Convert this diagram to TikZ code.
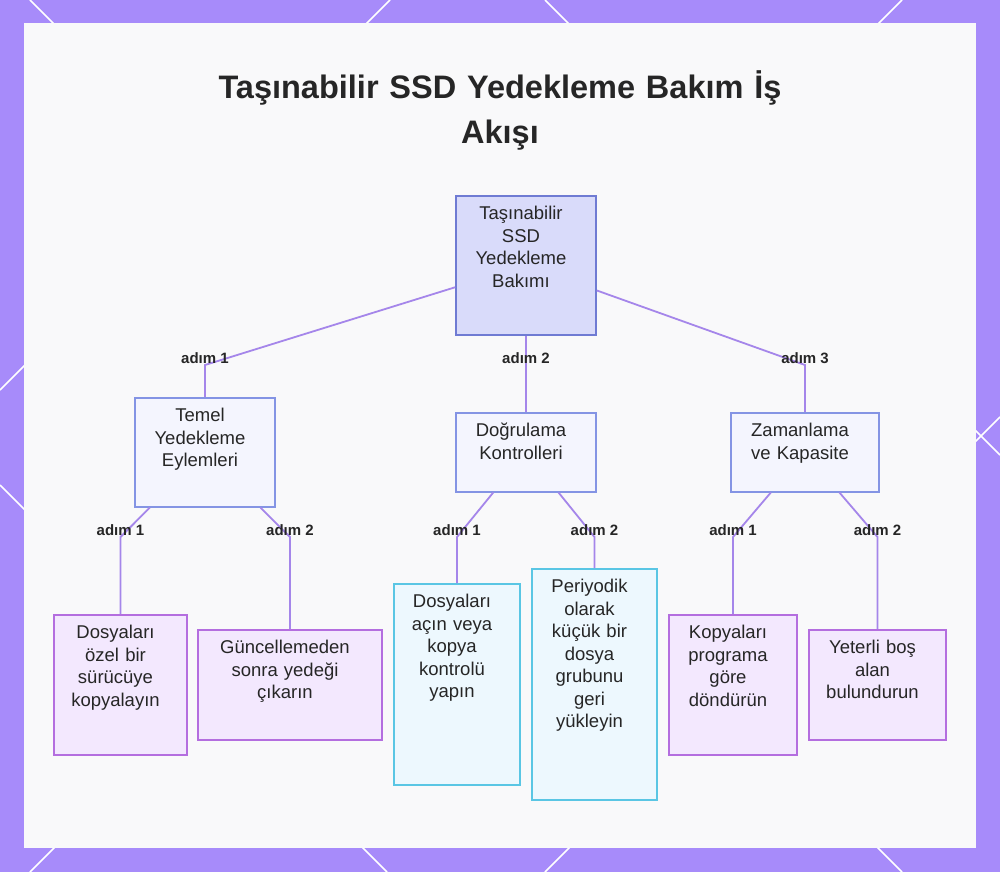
\documentclass[tikz,border=0pt]{standalone}
\usepackage{fontspec}
\setmainfont{Liberation Sans}
\setsansfont{Liberation Sans}
\usetikzlibrary{positioning}

\definecolor{framecol}{HTML}{A78BFA}
\definecolor{panelcol}{HTML}{F9F9FA}
\definecolor{linkcol}{HTML}{A586EA}
\definecolor{rootfill}{HTML}{D9DBFA}
\definecolor{rootdraw}{HTML}{6F7BD3}
\definecolor{groupfill}{HTML}{F4F5FE}
\definecolor{groupdraw}{HTML}{8494E4}
\definecolor{taskfill}{HTML}{F3E8FE}
\definecolor{taskdraw}{HTML}{B46EDF}
\definecolor{checkfill}{HTML}{EDF8FE}
\definecolor{checkdraw}{HTML}{5AC6E4}
\definecolor{inkcol}{HTML}{262626}

\begin{document}
\begin{tikzpicture}[%
	x=1pt, y=-1pt,              % one unit is one pixel of the picture
	every node/.style={font=\sffamily, text=inkcol},
	]
	% -------------------------------------------------
	% Box and connector styles
	\tikzset{
		boxbase/.style={draw, line width=1.5pt, align=center, anchor=north,
			inner xsep=0pt, inner ysep=11pt, text height=13pt,
			font=\sffamily\fontsize{18.5}{22.5}\selectfont,
			% text sits a little left of the box centre
			execute at begin node={\leftskip=0pt plus 1fil\rightskip=10pt plus 1fil\relax}},
		rootbox/.style={boxbase, fill=rootfill, draw=rootdraw},
		groupbox/.style={boxbase, fill=groupfill, draw=groupdraw},
		taskbox/.style={boxbase, fill=taskfill, draw=taskdraw},
		checkbox/.style={boxbase, fill=checkfill, draw=checkdraw},
		% connector between boxes
		link/.style={draw=linkcol, line width=1.8pt},
		steplabel/.style={font=\sffamily\bfseries\fontsize{15}{18}\selectfont, yshift=7pt},
		decor/.style={draw=white, line width=1.5pt}
	}
	\useasboundingbox (0,0) rectangle (1000,872);

	% frame with its white diagonals
	\fill[framecol] (0,0) rectangle (1000,872);
	\draw[decor] (30,0) -- (902,872);
	\draw[decor] (902,0) -- (30,872);
	\draw[decor] (390,0) -- (0,390);
	\draw[decor] (545,0) -- (1000,455);
	\draw[decor] (0,485) -- (387,872);
	\draw[decor] (1000,417) -- (545,872);
	\fill[panelcol] (24,23) rectangle (976,848);

	\node[font=\sffamily\bfseries\fontsize{32.5}{45}\selectfont, text width=700pt,
		align=center, anchor=base] (title) at (500,99) {Taşınabilir SSD Yedekleme Bakım İş\\Akışı};

	\node[rootbox, text width=140pt, text depth=104pt]	(root)		at (526,195)	{Taşınabilir\\SSD\\Yedekleme\\Bakımı};

	\node[groupbox, text width=140pt, text depth=74pt]	(basic)		at (205,397)	{Temel\\Yedekleme\\Eylemleri};
	\node[groupbox, text width=140pt, text depth=44pt]	(verify)	at (526,412)	{Doğrulama\\Kontrolleri};
	\node[groupbox, text width=148pt, text depth=44pt]	(plan)		at (805,412)	{Zamanlama\\ve Kapasite};

	\node[taskbox, text width=133pt, text depth=105pt]	(copy)		at (120.5,614)	{Dosyaları\\özel bir\\sürücüye\\kopyalayın};
	\node[taskbox, text width=184pt, text depth=75pt]	(eject)		at (290,629)	{Güncellemeden\\sonra yedeği\\çıkarın};
	\node[checkbox, text width=126pt, text depth=166pt]	(open)		at (457,583)	{Dosyaları\\açın veya\\kopya\\kontrolü\\yapın};
	\node[checkbox, text width=125pt, text depth=196pt]	(restore)	at (594.5,568)	{Periyodik\\olarak\\küçük bir\\dosya\\grubunu\\geri\\yükleyin};
	\node[taskbox, text width=128pt, text depth=105pt]	(rotate)	at (733,614)	{Kopyaları\\programa\\göre\\döndürün};
	\node[taskbox, text width=137pt, text depth=75pt]	(room)		at (877.5,629)	{Yeterli boş\\alan\\bulundurun};

	% bends of the connectors
	\coordinate (kbasic)	at (205,365);
	\coordinate (kverify)	at (526,365);
	\coordinate (kplan)		at (805,365);
	\coordinate (kcopy)		at (120.5,537);
	\coordinate (keject)	at (290,537);
	\coordinate (kopen)		at (457,537);
	\coordinate (krestore)	at (594.5,537);
	\coordinate (krotate)	at (733,537);
	\coordinate (kroom)		at (877.5,537);

	\draw[link] (root) -- (kbasic) -- (basic);
	\draw[link] (root) -- (verify);
	\draw[link] (root) -- (kplan) -- (plan);
	\draw[link] (basic) -- (kcopy) -- (copy);
	\draw[link] (basic) -- (keject) -- (eject);
	\draw[link] (verify) -- (kopen) -- (open);
	\draw[link] (verify) -- (krestore) -- (restore);
	\draw[link] (plan) -- (krotate) -- (rotate);
	\draw[link] (plan) -- (kroom) -- (room);

	\node[steplabel] (lbasic)	at (kbasic)		{adım 1};
	\node[steplabel] (lverify)	at (kverify)	{adım 2};
	\node[steplabel] (lplan)	at (kplan)		{adım 3};
	\node[steplabel] (lcopy)	at (kcopy)		{adım 1};
	\node[steplabel] (leject)	at (keject)		{adım 2};
	\node[steplabel] (lopen)	at (kopen)		{adım 1};
	\node[steplabel] (lrestore)	at (krestore)	{adım 2};
	\node[steplabel] (lrotate)	at (krotate)	{adım 1};
	\node[steplabel] (lroom)	at (kroom)		{adım 2};

\end{tikzpicture}
\end{document}
